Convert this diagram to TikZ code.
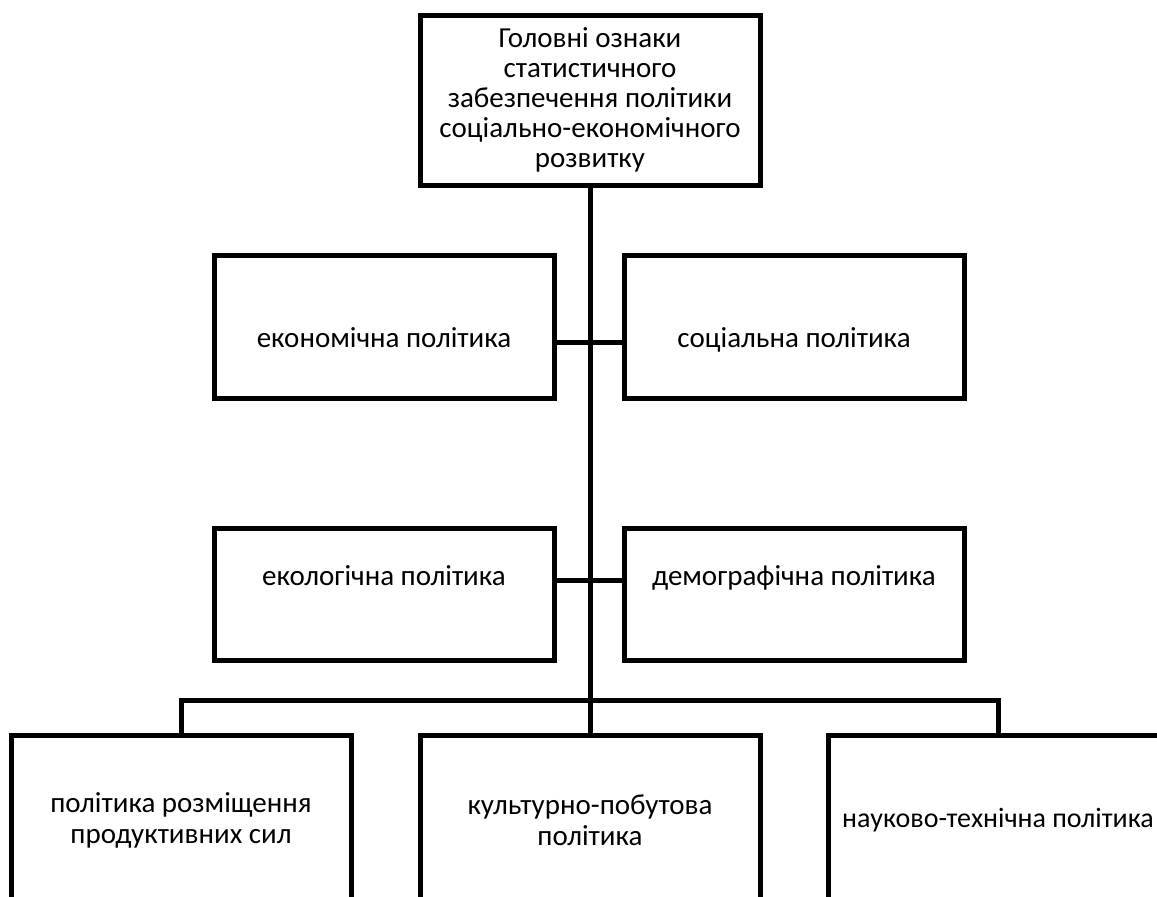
\documentclass[tikz,border=0pt]{standalone}
\usepackage{fontspec}
\setmainfont{Carlito}
\tikzset{
  policy/.style={draw, line width=5pt, minimum width=340pt, minimum height=143pt, align=center, inner sep=0pt},
  lowtext/.style={text height=40pt, text depth=0pt},
  hightext/.style={text height=0pt, text depth=18pt},
  link/.style={line width=5pt}
}
\begin{document}
\begin{tikzpicture}[x=1pt,y=-1pt,font=\fontsize{29}{31}\selectfont]
\path[use as bounding box, clip] (0,0) rectangle (1157,897);
\node[policy, minimum height=170pt, font=\fontsize{29}{30}\selectfont] (top) at (590,100) {Головні ознаки\\статистичного\\забезпечення політики\\соціально-економічного\\розвитку};
\node[policy, lowtext] (econ) at (384,327) {економічна політика};
\node[policy, lowtext] (social) at (794,327) {соціальна політика};
\node[policy, hightext, minimum height=132pt] (ecol) at (384,594) {екологічна політика};
\node[policy, hightext, minimum height=132pt] (demog) at (794,594) {демографічна політика};
\node[policy, minimum height=170pt] (placement) at (181,820) {політика розміщення\\продуктивних сил};
\node[policy, minimum height=170pt] (culture) at (590,820) {культурно-побутова\\політика};
\node[policy, minimum height=170pt, font=\fontsize{28}{31}\selectfont] (science) at (998,820) {науково-технічна політика};
\coordinate (bar) at (590,700);
\draw[link] (top.south) -- (culture.north);
\draw[link] (econ.east |- 0,342) -- (social.west |- 0,342);
\draw[link] (ecol.east |- 0,580) -- (demog.west |- 0,580);
\draw[link] (placement.north) |- (science.north |- bar) -- (science.north);
\end{tikzpicture}
\end{document}
